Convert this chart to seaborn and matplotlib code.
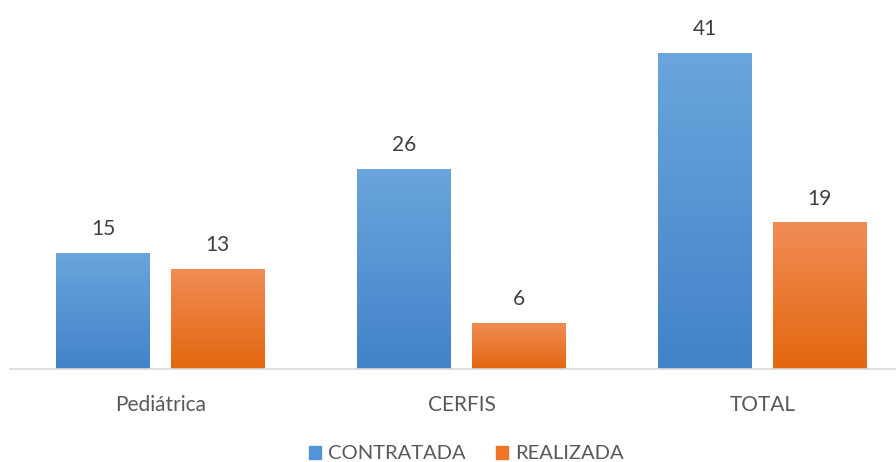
import pandas as pd
import seaborn as sns
import numpy as np
import matplotlib.pyplot as plt
from matplotlib.colors import LinearSegmentedColormap
from matplotlib.patches import Patch

categorias = ['Pediátrica', 'CERFIS', 'TOTAL']
contratada = [15, 26, 41]
realizada = [13, 6, 19]
series = ['CONTRATADA', 'REALIZADA']

d = pd.DataFrame({
    'cat': categorias * 2,
    'serie': [series[0]] * 3 + [series[1]] * 3,
    'valor': contratada + realizada,
})

sns.set_style('white')
plt.rcParams['font.family'] = ['Lato', 'DejaVu Sans']

fig = plt.figure(figsize=(8.96, 4.62), dpi=100)
ax = fig.add_axes([10 / 896, 93 / 462, 903 / 896, 347 / 462])

cores = {'CONTRATADA': '#5393d6', 'REALIZADA': '#ed7525'}
sns.barplot(data=d, x='cat', y='valor', hue='serie', palette=cores,
            width=0.76, gap=0.18, ax=ax, legend=False, errorbar=None)

# gradiente tipo Excel
grad = {
    'CONTRATADA': LinearSegmentedColormap.from_list('b', ['#4183c9', '#6aa5dc']),
    'REALIZADA': LinearSegmentedColormap.from_list('o', ['#e3670f', '#f08d55']),
}
for cont, s in zip(ax.containers, series):
    for p in cont.patches:
        x0, y0 = p.get_x(), p.get_y()
        w, h = p.get_width(), p.get_height()
        im = ax.imshow(np.linspace(0, 1, 100).reshape(-1, 1), cmap=grad[s],
                       extent=[x0, x0 + w, y0, y0 + h], origin='lower',
                       aspect='auto', zorder=p.get_zorder() + 0.1)
        im.set_clip_path(p)
    ax.bar_label(cont, padding=10, fontsize=15, color='#404040')

ax.set_xlim(-0.5, 2.5)
ax.set_ylim(0, 45)
ax.set_xlabel('')
ax.set_ylabel('')
ax.set_yticks([])
ax.tick_params(axis='x', length=0, labelsize=15, labelcolor='#595959', pad=19)
for sp in ['top', 'left', 'right']:
    ax.spines[sp].set_visible(False)
ax.spines['bottom'].set_color('#d9d9d9')
ax.spines['bottom'].set_linewidth(1.2)

handles = [Patch(color=cores[s]) for s in series]
fig.legend(handles, series, loc='lower center', bbox_to_anchor=(0.52, -0.04),
           ncol=2, frameon=False, fontsize=14.5, labelcolor='#595959',
           handlelength=0.6, handleheight=0.6, handletextpad=0.35, columnspacing=1.5)

plt.savefig('out.png', dpi=100)
